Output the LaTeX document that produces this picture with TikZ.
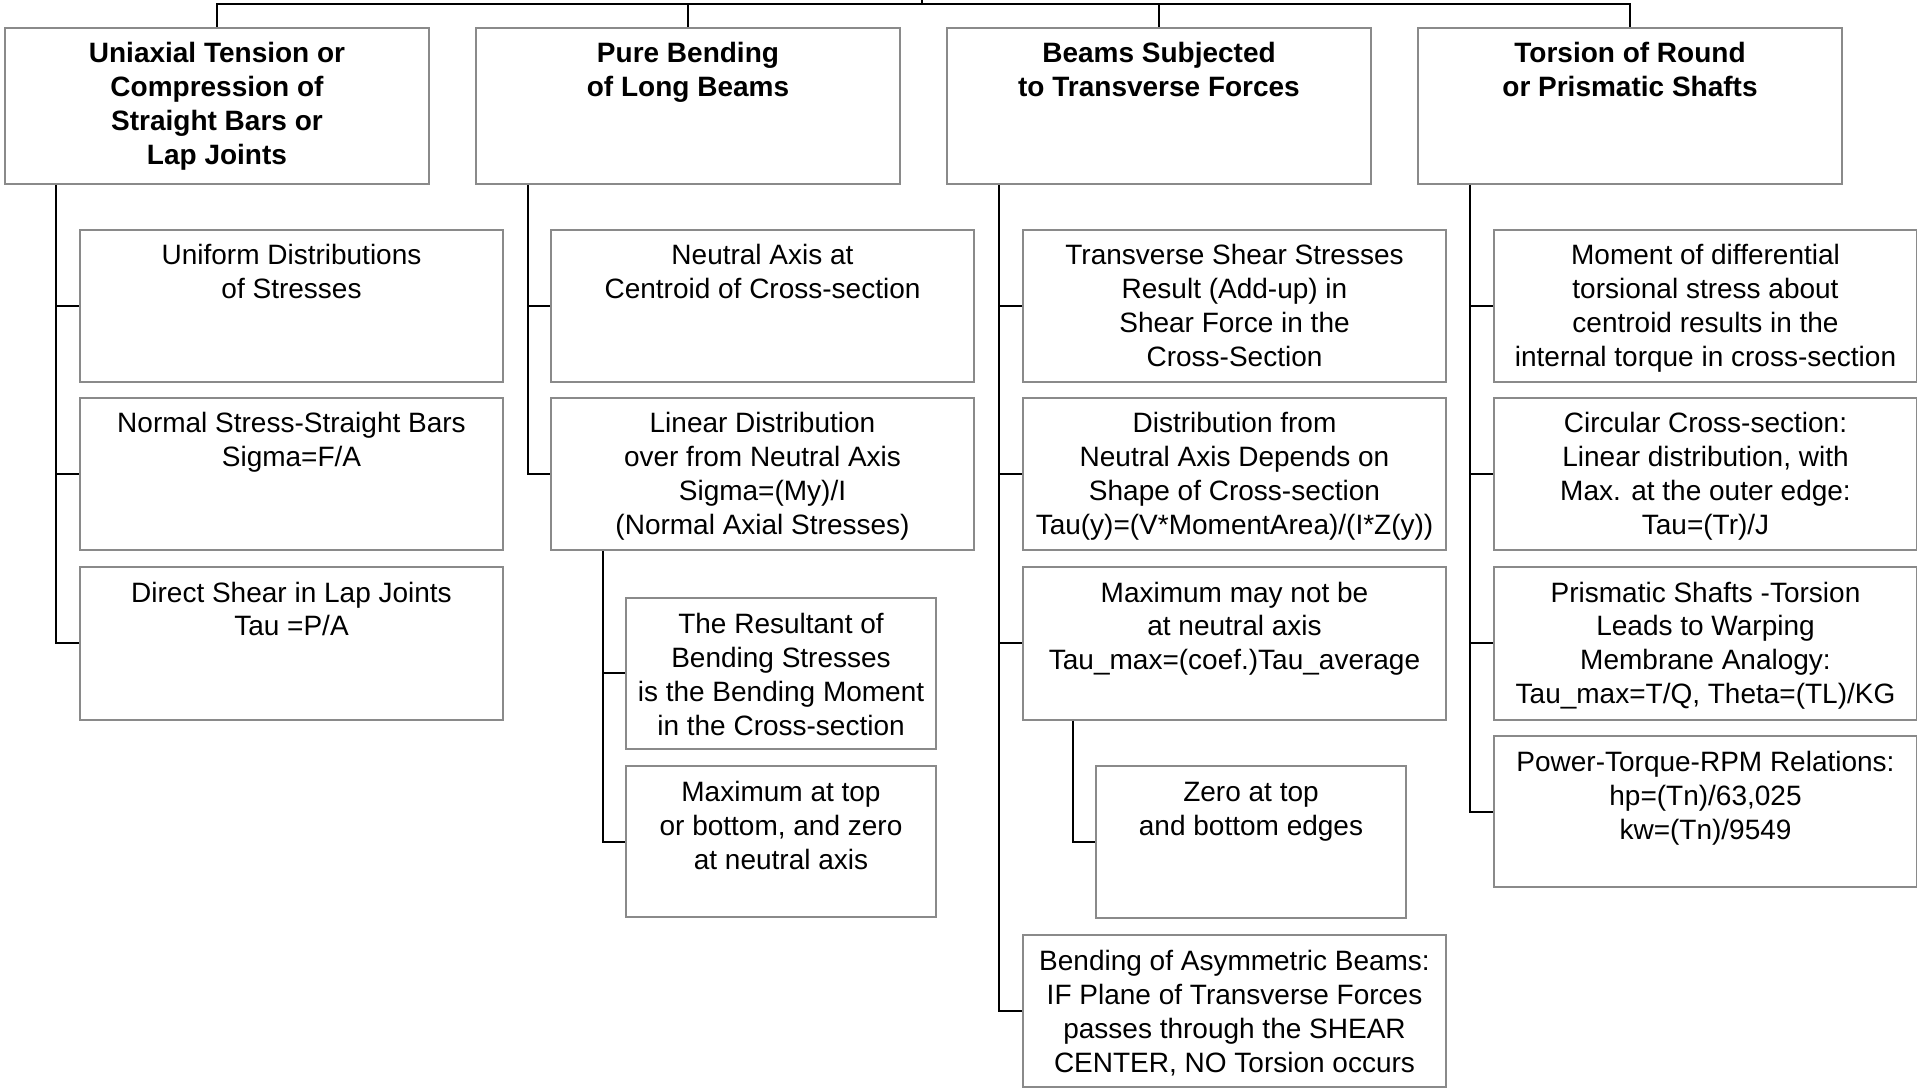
\documentclass[tikz,border=0pt]{standalone}
\usepackage{fontspec}
\setmainfont{Liberation Sans}
\definecolor{boxgray}{HTML}{8A8A8A}
\newcommand\bxt[3]{\parbox[c][#2][t]{#1}{\centering\rule{0pt}{17.5pt}#3}}
\begin{document}
\begin{tikzpicture}[x=0.5pt,y=-0.5pt,
  every node/.style={font=\fontsize{14pt}{17pt}\selectfont},
  box/.style={draw=boxgray,line width=1pt,inner sep=0pt,anchor=north west},
  conn/.style={draw=black,line width=1pt}]
\useasboundingbox (0,0) rectangle (1917,1090);
% top level
\node[box] (A) at (4,27) {\bxt{212pt}{78pt}{\bfseries Uniaxial Tension or\\Compression of\\Straight Bars or\\Lap Joints}};
\node[box] (B) at (475,27) {\bxt{212pt}{78pt}{\bfseries Pure Bending\\of Long Beams}};
\node[box] (C) at (946,27) {\bxt{212pt}{78pt}{\bfseries Beams Subjected\\to Transverse Forces}};
\node[box] (D) at (1417,27) {\bxt{212pt}{78pt}{\bfseries Torsion of Round\\or Prismatic Shafts}};
% column A
\node[box] (A1) at (79,229) {\bxt{211.5pt}{76.25pt}{Uniform Distributions\\of Stresses}};
\node[box] (A2) at (79,397) {\bxt{211.5pt}{76.25pt}{Normal Stress-Straight Bars\\Sigma=F/A}};
\node[box] (A3) at (79,566) {\bxt{211.5pt}{76.25pt}{Direct Shear in Lap Joints\\Tau =P/A}};
% column B
\node[box] (B1) at (550,229) {\bxt{211.5pt}{76.25pt}{Neutral Axis at\\Centroid of Cross-section}};
\node[box] (B2) at (550,397) {\bxt{211.5pt}{76.25pt}{Linear Distribution\\over from Neutral Axis\\Sigma=(My)/I\\(Normal Axial Stresses)}};
\node[box] (B2a) at (625,597) {\bxt{155pt}{75.5pt}{The Resultant of\\Bending Stresses\\is the Bending Moment\\in the Cross-section}};
\node[box] (B2b) at (625,765) {\bxt{155pt}{75.5pt}{Maximum at top\\or bottom, and zero\\at neutral axis}};
% column C
\node[box] (C1) at (1022,229) {\bxt{211.5pt}{76.25pt}{Transverse Shear Stresses\\Result (Add-up) in\\Shear Force in the\\Cross-Section}};
\node[box] (C2) at (1022,397) {\bxt{211.5pt}{76.25pt}{Distribution from\\Neutral Axis Depends on\\Shape of Cross-section\\Tau(y)=(V*MomentArea)/(I*Z(y))}};
\node[box] (C3) at (1022,566) {\bxt{211.5pt}{76.25pt}{Maximum may not be\\at neutral axis\\Tau\_max=(coef.)Tau\_average}};
\node[box] (C3a) at (1095,765) {\bxt{155pt}{76pt}{Zero at top\\and bottom edges}};
\node[box] (C4) at (1022,934) {\bxt{211.5pt}{76pt}{Bending of Asymmetric Beams:\\IF Plane of Transverse Forces\\passes through the SHEAR\\CENTER, NO Torsion occurs}};
% column D
\node[box] (D1) at (1493,229) {\bxt{211.5pt}{76.25pt}{Moment of differential\\torsional stress about\\centroid results in the\\internal torque in cross-section}};
\node[box] (D2) at (1493,397) {\bxt{211.5pt}{76.25pt}{Circular Cross-section:\\Linear distribution, with\\Max. at the outer edge:\\Tau=(Tr)/J}};
\node[box] (D3) at (1493,566) {\bxt{211.5pt}{76.25pt}{Prismatic Shafts -Torsion\\Leads to Warping\\Membrane Analogy:\\Tau\_max=T/Q, Theta=(TL)/KG}};
\node[box] (D4) at (1493,735) {\bxt{211.5pt}{75.5pt}{Power-Torque-RPM Relations:\\hp=(Tn)/63,025\\kw=(Tn)/9549}};
% trunk coordinates
\coordinate (root) at (922,0);
\coordinate (top) at (922,4);
\coordinate (tA) at (56,0);
\coordinate (tB) at (528,0);
\coordinate (tC) at (999,0);
\coordinate (tD) at (1470,0);
\coordinate (tB2) at (603,0);
\coordinate (tC3) at (1073,0);
% top connectors
\draw[conn] (A.north) |- (D.north |- top) -- (D.north);
\draw[conn] (B.north) -- (B.north |- top);
\draw[conn] (C.north) -- (C.north |- top);
\draw[conn] (top) -- (root);
% column A
\draw[conn] (A.south -| tA) |- (A3.west);
\draw[conn] (A1.west -| tA) -- (A1.west);
\draw[conn] (A2.west -| tA) -- (A2.west);
% column B
\draw[conn] (B.south -| tB) |- (B2.west);
\draw[conn] (B1.west -| tB) -- (B1.west);
\draw[conn] (B2.south -| tB2) |- (B2b.west);
\draw[conn] (B2a.west -| tB2) -- (B2a.west);
% column C
\draw[conn] (C.south -| tC) |- (C4.west);
\draw[conn] (C1.west -| tC) -- (C1.west);
\draw[conn] (C2.west -| tC) -- (C2.west);
\draw[conn] (C3.west -| tC) -- (C3.west);
\draw[conn] (C3.south -| tC3) |- (C3a.west);
% column D
\draw[conn] (D.south -| tD) |- (D4.west);
\draw[conn] (D1.west -| tD) -- (D1.west);
\draw[conn] (D2.west -| tD) -- (D2.west);
\draw[conn] (D3.west -| tD) -- (D3.west);
\end{tikzpicture}
\end{document}
